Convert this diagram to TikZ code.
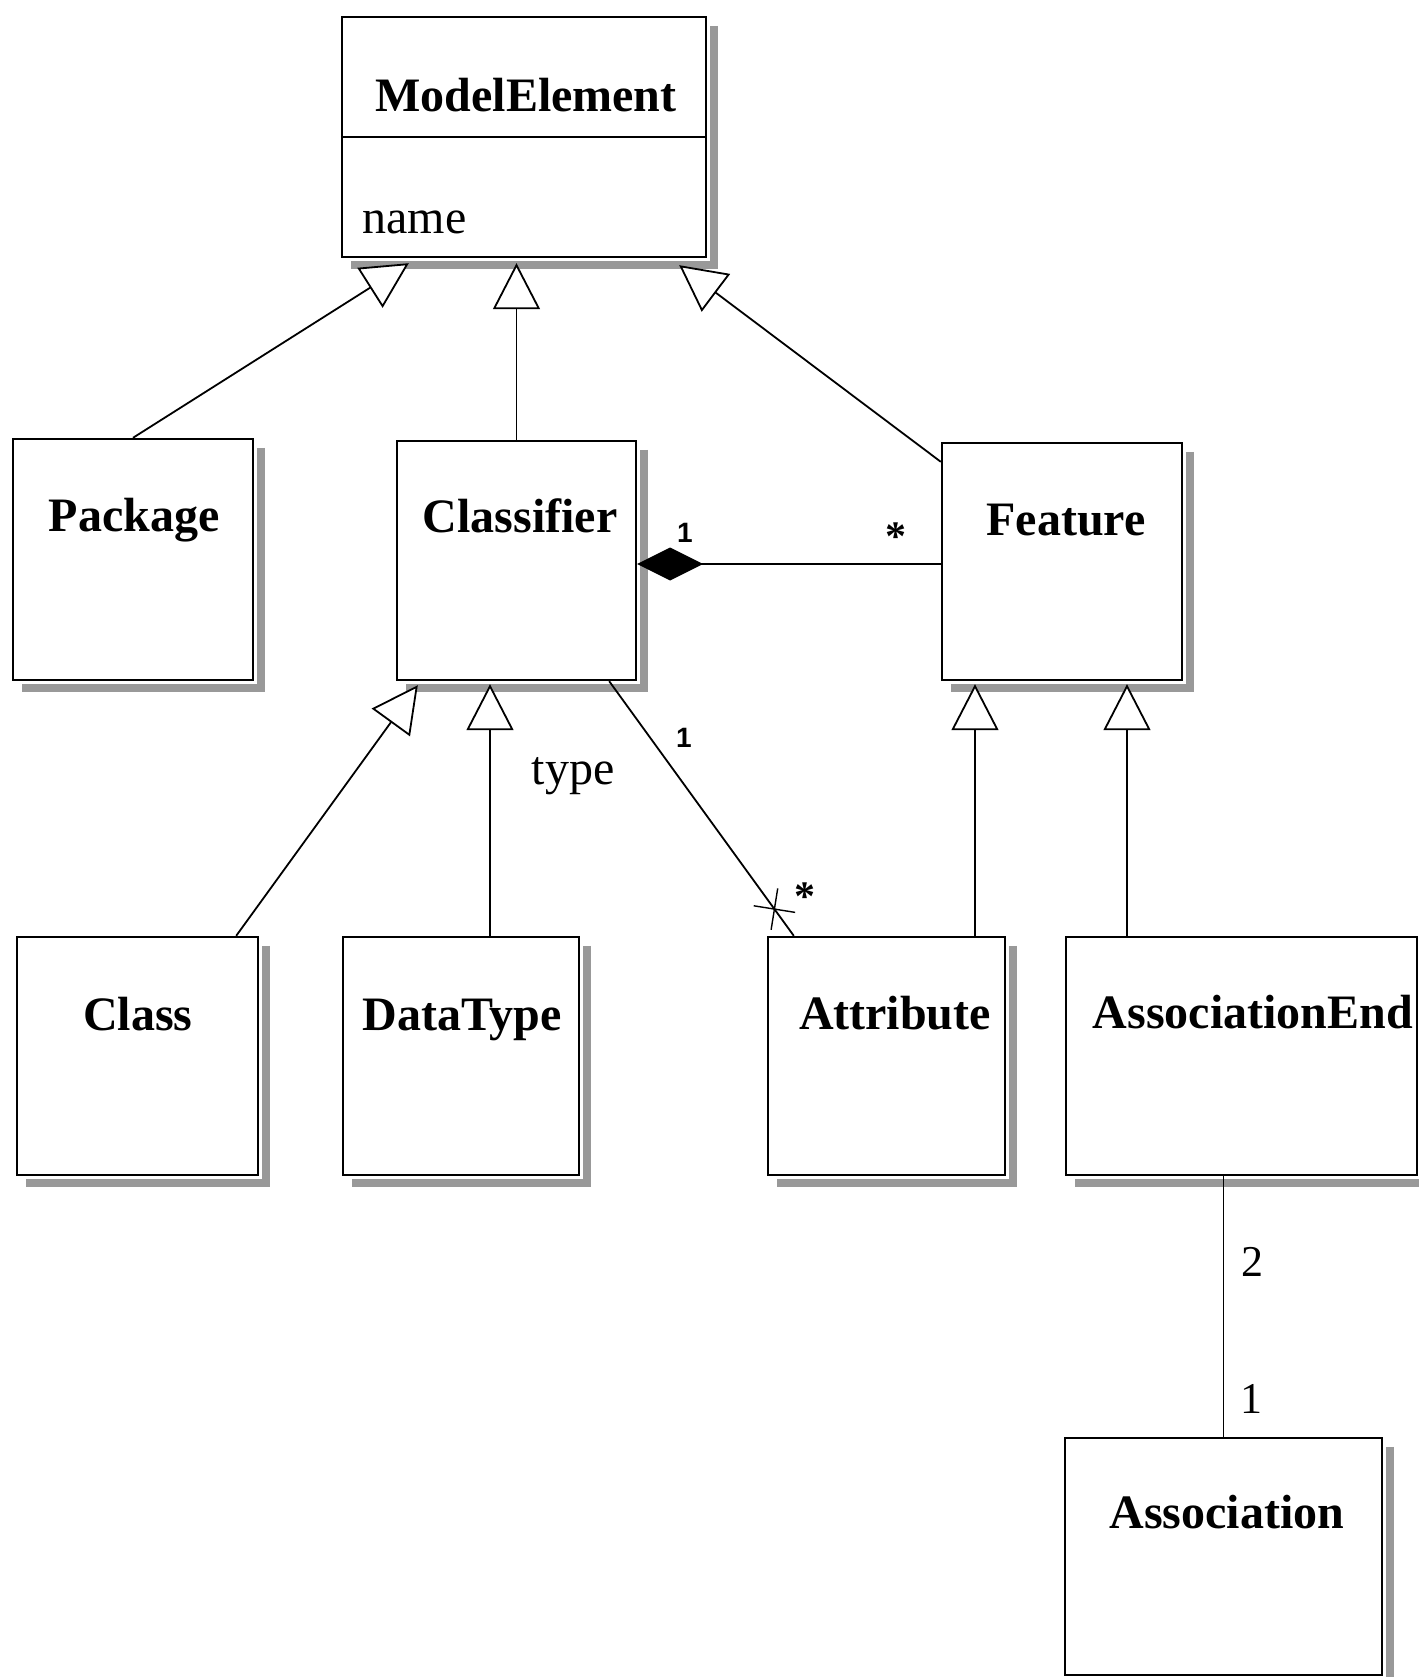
\documentclass[tikz,border=0pt]{standalone}
\usepackage{fontspec}
\setmainfont{Liberation Serif}
\newfontfamily\labelsans{Liberation Sans}
\usetikzlibrary{arrows.meta,calc}

\begin{document}
\begin{tikzpicture}[x=0.5pt,y=-0.5pt,
  umlbox/.style={draw, line width=1.2pt, fill=white, inner sep=0pt, rectangle},
  title/.style={font=\fontsize{24}{28}\selectfont\bfseries, anchor=base, inner sep=0pt},
  plain/.style={font=\fontsize{24}{28}\selectfont, anchor=base, inner sep=0pt},
  digit/.style={font=\fontsize{22}{26}\selectfont, anchor=base, inner sep=0pt},
  mult/.style={font=\labelsans\bfseries\fontsize{14}{16}\selectfont, inner sep=0pt},
  many/.style={font=\bfseries\fontsize{21}{24}\selectfont, inner sep=0pt},
  shadowband/.style={draw=black!40, line width=4pt},
  link/.style={draw, line width=0.9pt},
  generalizes/.style={link, -{Triangle[length=23pt, width=23.5pt, fill=white, line width=0.9pt]}},
  composes/.style={link, -{Diamond[length=33pt, width=16.5pt, fill=black]}},
]
\useasboundingbox (0,0) rectangle (1419,1677);

% ---- classes ----
\node[umlbox, minimum width=182pt, minimum height=120pt] (me) at (524,137) {};
\draw[line width=1.2pt] (me.west) -- (me.east);
\node[title] (me-title) at (526,111) {ModelElement};
\node[plain, anchor=base west] (me-attr) at (362,233) {name};

\node[umlbox, minimum width=120pt, minimum height=120.5pt] (pkg) at (133,559.5) {};
\node[title] (pkg-title) at (134,531) {Package};

\node[umlbox, minimum width=119.5pt, minimum height=119.5pt] (classifier) at (516.5,560.5) {};
\node[title] (classifier-title) at (520,532) {Classifier};

\node[umlbox, minimum width=120pt, minimum height=118.5pt] (feature) at (1062,561.5) {};
\node[title] (feature-title) at (1066,535) {Feature};

\node[umlbox, minimum width=120.5pt, minimum height=119pt] (class) at (137.5,1056) {};
\node[title] (class-title) at (138,1030) {Class};

\node[umlbox, minimum width=118pt, minimum height=119pt] (datatype) at (461,1056) {};
\node[title] (datatype-title) at (462,1030) {DataType};

\node[umlbox, minimum width=118.5pt, minimum height=119pt] (attribute) at (886.5,1056) {};
\node[title] (attribute-title) at (895,1029) {Attribute};

\node[umlbox, minimum width=175.5pt, minimum height=119pt] (assocend) at (1241.5,1056) {};
\node[title] (assocend-title) at (1253,1028) {AssociationEnd};

\node[umlbox, minimum width=158.5pt, minimum height=118.5pt] (association) at (1223.5,1556.5) {};
\node[title] (association-title) at (1227,1528) {Association};

% ---- drop shadows on the right and bottom edges ----
\foreach \b in {me,pkg,classifier,feature,class,datatype,attribute,assocend,association}
  \draw[shadowband] ($(\b.north east)+(7,10)$) |- ($(\b.south west)+(10,7)$);

% ---- generalizations ----
\draw[generalizes] (pkg.north) -- ($(me.south west)+(68,5)$);
\draw[generalizes] (classifier.north) -- ($(classifier.north |- me.south)+(0,5)$);
\draw[generalizes] ($(feature.north west)+(0,20)$) -- ($(me.south east)+(-28,7)$);
\draw[generalizes] ($(class.north east)+(-23,0)$) -- ($(classifier.south west)+(22,4)$);
\draw[generalizes] ($(datatype.north)+(29,0)$) -- ($(classifier.south)+(-26.5,3)$);
\draw[generalizes] ($(attribute.north)+(88.5,0)$) -- ($(feature.south)+(-87,3)$);
\draw[generalizes] ($(assocend.north)+(-114.5,0)$) -- ($(feature.south)+(65,3)$);

% ---- composition Classifier <>-- Feature ----
\draw[composes] ($(feature.west)+(0,2.5)$) -- ($(classifier.east)+(0,3.5)$);
\node[mult] (comp-one) at (685,533) {1};
\node[many] (comp-many) at (896,537) {*};

% ---- type association Classifier -- Attribute ----
\draw[link] ($(classifier.south east)+(-28,0)$) -- coordinate[pos=0.895] (navcross) ($(attribute.north west)+(27,0)$);
\draw[line width=0.7pt] ($(navcross)+(-20.7,-3.3)$) -- ($(navcross)+(20.7,3.3)$)
                        ($(navcross)+(3.3,-20.7)$) -- ($(navcross)+(-3.3,20.7)$);
\node[plain] (type-role) at (573,784) {type};
\node[mult] (type-one) at (684,738) {1};
\node[many] (type-many) at (805,897) {*};

% ---- AssociationEnd -- Association ----
\draw[link] (association.north) -- (association.north |- assocend.south);
\node[digit] (end-two) at (1252,1276) {2};
\node[digit] (end-one) at (1251,1413) {1};
\end{tikzpicture}
\end{document}
